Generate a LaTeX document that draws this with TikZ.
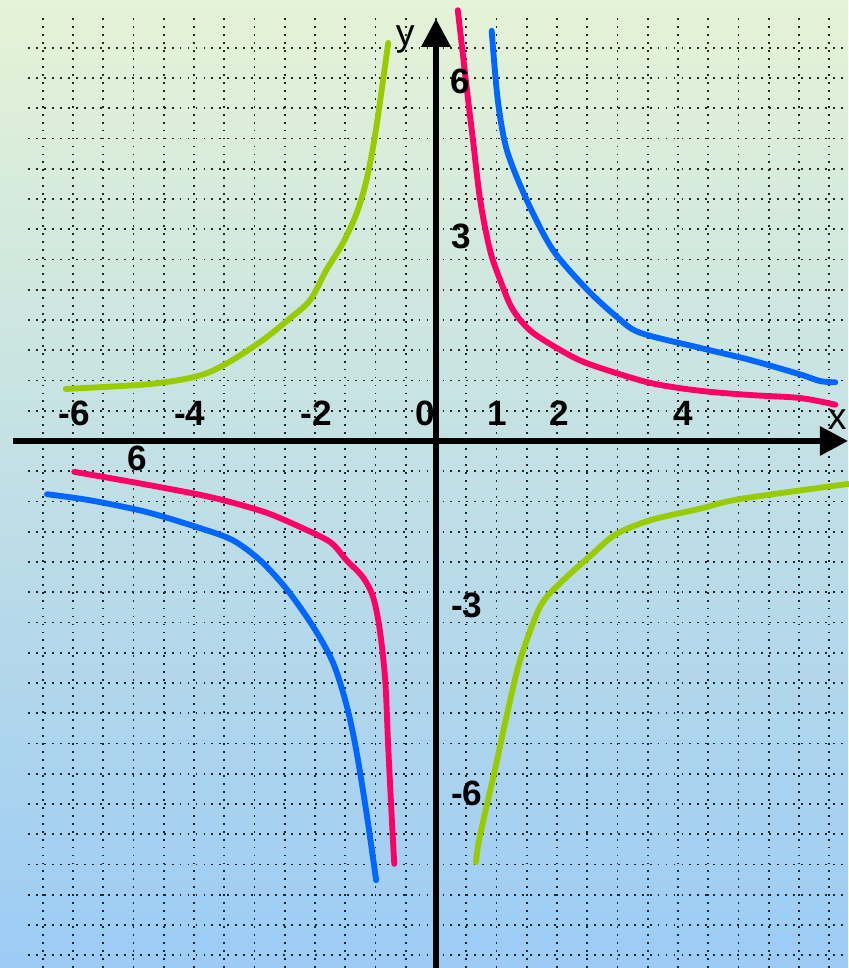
\documentclass[tikz,border=0pt]{standalone}
\usepackage{fontspec}
\setmainfont{Liberation Sans}
\usetikzlibrary{arrows.meta}
\definecolor{bgtop}{HTML}{E5F3D6}
\definecolor{bgmid}{HTML}{C6E2E5}
\definecolor{bgbot}{HTML}{9CCBF5}
\definecolor{cgreen}{HTML}{99CC00}
\definecolor{cred}{HTML}{FF0066}
\definecolor{cblue}{HTML}{0066FF}
\tikzset{
  griddots/.style={line width=1.6pt,color=black!85,dash pattern=on 1.6pt off 5.2pt},
  axisline/.style={line width=5pt,->},
  curve/.style={line width=5pt,line cap=round},
  numlabel/.style={font=\fontsize{30}{34}\selectfont\bfseries,inner sep=0pt},
  varlabel/.style={font=\fontsize{32}{36}\selectfont,inner sep=0pt}
}
\begin{document}
\begin{tikzpicture}[x=1.815cm,y=1.815cm,>={Triangle[length=24pt,width=24pt]}]
  \useasboundingbox (-7.207,-8.711) rectangle (6.810,7.289);
  \shade[top color=bgtop,middle color=bgmid,bottom color=bgbot] (-7.207,-8.711) rectangle (6.810,7.289);
  % grid
  \foreach \i in {-13,...,13}
    \draw[griddots] (\i/2,6.99) -- (\i/2,-8.711);
  \foreach \j in {-17,...,13}
    \draw[griddots] (-6.74,\j/2) -- (6.810,\j/2);
  % axes
  \draw[axisline] (-7.0,0) -- (6.81,0);
  \draw[axisline] (0,-8.711) -- (0,6.98);
  % curves
  \draw[curve,cgreen] plot[smooth] coordinates {(-6.12,0.86) (-4.86,0.93) (-4.23,1.01) (-3.79,1.12) (-3.36,1.34) (-2.86,1.67) (-2.41,2.03) (-2.08,2.33) (-1.81,2.83) (-1.54,3.27) (-1.31,3.77) (-1.15,4.31) (-1.0,5.1) (-0.79,6.58)};
  \draw[curve,cgreen] plot[smooth] coordinates {(0.66,-6.96) (0.71,-6.60) (0.86,-5.93) (1.01,-5.27) (1.17,-4.53) (1.39,-3.62) (1.72,-2.74) (2.05,-2.35) (2.55,-1.90) (2.96,-1.55) (3.54,-1.31) (4.36,-1.12) (5.02,-0.96) (6.81,-0.71)};
  \draw[curve,cred] plot[smooth] coordinates {(0.36,7.12) (0.53,5.64) (0.61,4.98) (0.73,3.98) (0.89,3.16) (1.06,2.66) (1.27,2.17) (1.60,1.79) (2.26,1.39) (2.71,1.21) (3.54,0.96) (4.36,0.83) (5.19,0.76) (6.02,0.71) (6.60,0.60)};
  \draw[curve,cred] plot[smooth] coordinates {(-5.98,-0.51) (-4.9,-0.70) (-3.90,-0.89) (-3.36,-1.02) (-2.79,-1.19) (-2.25,-1.42) (-1.75,-1.67) (-1.48,-1.97) (-1.21,-2.25) (-1.04,-2.58) (-0.93,-3.12) (-0.84,-3.95) (-0.79,-5.06) (-0.73,-6.26) (-0.69,-6.99)};
  \draw[curve,cblue] plot[smooth] coordinates {(0.92,6.78) (1.02,5.64) (1.17,4.81) (1.50,3.98) (1.93,3.16) (2.50,2.50) (2.99,2.05) (3.37,1.79) (4.36,1.54) (5.19,1.34) (6.02,1.10) (6.35,0.99) (6.60,0.97)};
  \draw[curve,cblue] plot[smooth] coordinates {(-6.43,-0.88) (-5.72,-0.98) (-4.8,-1.17) (-3.90,-1.44) (-3.36,-1.64) (-2.91,-1.97) (-2.46,-2.46) (-2.03,-3.07) (-1.70,-3.67) (-1.47,-4.40) (-1.31,-5.16) (-1.14,-6.21) (-0.99,-7.26)};
  % labels
  \node[numlabel] (xm6) at (-5.98,0.46) {-6};
  \node[numlabel] (xm4) at (-4.07,0.46) {-4};
  \node[numlabel] (xm2) at (-1.98,0.46) {-2};
  \node[numlabel] (orig) at (-0.18,0.46) {0};
  \node[numlabel] (xp1) at (1.01,0.46) {1};
  \node[numlabel] (xp2) at (2.03,0.46) {2};
  \node[numlabel] (xp4) at (4.08,0.46) {4};
  \node[numlabel] (xsix) at (-4.93,-0.28) {6};
  \node[numlabel] (yp6) at (0.40,5.94) {6};
  \node[numlabel] (yp3) at (0.41,3.38) {3};
  \node[numlabel] (ym3) at (0.51,-2.71) {-3};
  \node[numlabel] (ym6) at (0.51,-5.82) {-6};
  \node[varlabel] (xname) at (6.63,0.36) {x};
  \node[varlabel] (yname) at (-0.51,6.64) {y};
\end{tikzpicture}
\end{document}
